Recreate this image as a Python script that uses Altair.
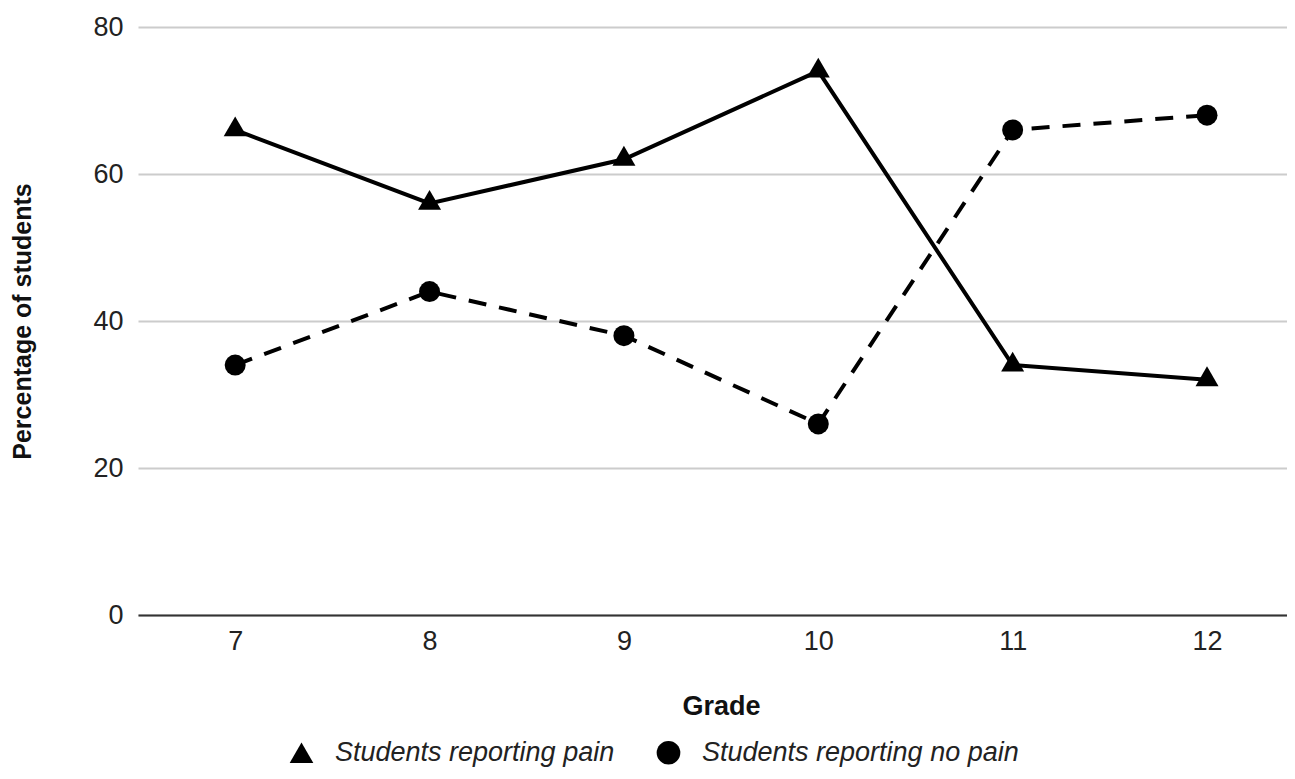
import altair as alt
import pandas as pd

grades = [7, 8, 9, 10, 11, 12]
pain = [66, 56, 62, 74, 34, 32]
no_pain = [34, 44, 38, 26, 66, 68]
series_names = ["Students reporting pain", "Students reporting no pain"]
y_ticks = [0, 20, 40, 60, 80]

rows = []
for g, v in zip(grades, pain):
    rows.append({"grade": g, "value": v, "series": series_names[0]})
for g, v in zip(grades, no_pain):
    rows.append({"grade": g, "value": v, "series": series_names[1]})
df = pd.DataFrame(rows)

FONT = "Liberation Sans"

x_enc = alt.X(
    "grade:Q",
    scale=alt.Scale(domain=[6.5, 12.4115], nice=False, zero=False),
    axis=alt.Axis(
        values=grades, format="d", grid=False, ticks=False,
        domainColor="#333333", domainWidth=2,
        labelFontSize=27, labelPadding=13, labelColor="#222222", labelFlush=False,
        title="Grade", titleFontSize=27, titleFontWeight="bold", titleColor="#111111",
        titleX=583, titleY=91, titleBaseline="middle", titleAlign="center",
    ),
)
y_enc = alt.Y(
    "value:Q",
    scale=alt.Scale(domain=[0, 80], nice=False),
    axis=alt.Axis(
        values=y_ticks, domain=False, ticks=False,
        gridColor="#cccccc", gridWidth=2,
        labelFontSize=27, labelPadding=15, labelColor="#222222",
        title="Percentage of students", titleFontSize=25, titleFontWeight="bold",
        titleColor="#111111", titleX=-116, titleY=294, titleAngle=-90,
        titleBaseline="middle", titleAlign="center",
    ),
)

shape_scale = alt.Scale(domain=series_names, range=["triangle-up", "circle"])
legend = alt.Legend(
    title=None, orient="none", direction="horizontal", legendX=150, legendY=712,
    padding=0, symbolSize=560, symbolFillColor="black", symbolStrokeColor="black",
    symbolStrokeWidth=0, labelFontSize=27, labelFontStyle="italic", labelColor="#222222",
    labelOffset=20, columnPadding=40, labelLimit=0,
)

base = alt.Chart(df)

line_pain = base.transform_filter(alt.datum.series == series_names[0]).mark_line(
    color="black", strokeWidth=4, strokeCap="butt"
).encode(x=x_enc, y=y_enc)

line_nopain = base.transform_filter(alt.datum.series == series_names[1]).mark_line(
    color="black", strokeWidth=4, strokeCap="butt", strokeDash=[18, 13]
).encode(x=x_enc, y=y_enc)

tri = base.transform_filter(alt.datum.series == series_names[0]).mark_point(
    filled=True, color="black", opacity=1, size=529, yOffset=-3.5
).encode(
    x=x_enc, y=y_enc,
    shape=alt.Shape("series:N", scale=shape_scale, legend=legend),
)

circ = base.transform_filter(alt.datum.series == series_names[1]).mark_point(
    filled=True, color="black", opacity=1, size=441
).encode(
    x=x_enc, y=y_enc,
    shape=alt.Shape("series:N", scale=shape_scale, legend=legend),
)

chart = alt.layer(line_pain, line_nopain, tri, circ).properties(
    width=1149, height=588,
    autosize=alt.AutoSizeParams(type="none"),
    padding={"left": 130, "top": 19, "right": 0, "bottom": 156},
).configure(font=FONT).configure_view(stroke=None)

chart.save("out.html", embed_options={"renderer": "svg", "actions": False})
